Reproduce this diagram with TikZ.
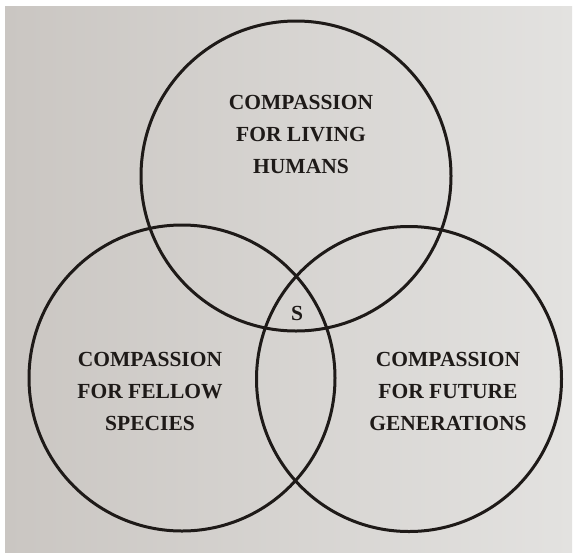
\documentclass[tikz,border=0pt]{standalone}
\usepackage{fontspec}
\setmainfont{Liberation Serif}
\begin{document}
\begin{tikzpicture}[x=1pt,y=-1pt,
  ring/.style={draw=ink,line width=3pt},
  lbl/.style={text=ink,font=\fontsize{21.5}{32}\selectfont\bfseries,align=center,inner sep=0pt}]
\definecolor{ink}{HTML}{1E1A18}
\definecolor{paperL}{HTML}{CAC6C2}
\definecolor{paperR}{HTML}{E3E2E0}
\useasboundingbox (0,0) rectangle (575,555);
\fill[white] (0,0) rectangle (575,555);
\shade[left color=paperL,right color=paperR] (5,6) rectangle (572,552);
\node[circle,ring,minimum size=310pt] (top) at (296,176) {};
\node[circle,ring,minimum size=306pt] (left) at (182,378) {};
\node[circle,ring,minimum size=305pt] (right) at (409,379) {};
\node[lbl] (tl) at (301,134) {COMPASSION\\FOR LIVING\\HUMANS};
\node[lbl] (ll) at (150,391) {COMPASSION\\FOR FELLOW\\SPECIES};
\node[lbl] (rl) at (448,391) {COMPASSION\\FOR FUTURE\\GENERATIONS};
\node[lbl] (s) at (297,313) {S};
\end{tikzpicture}
\end{document}
